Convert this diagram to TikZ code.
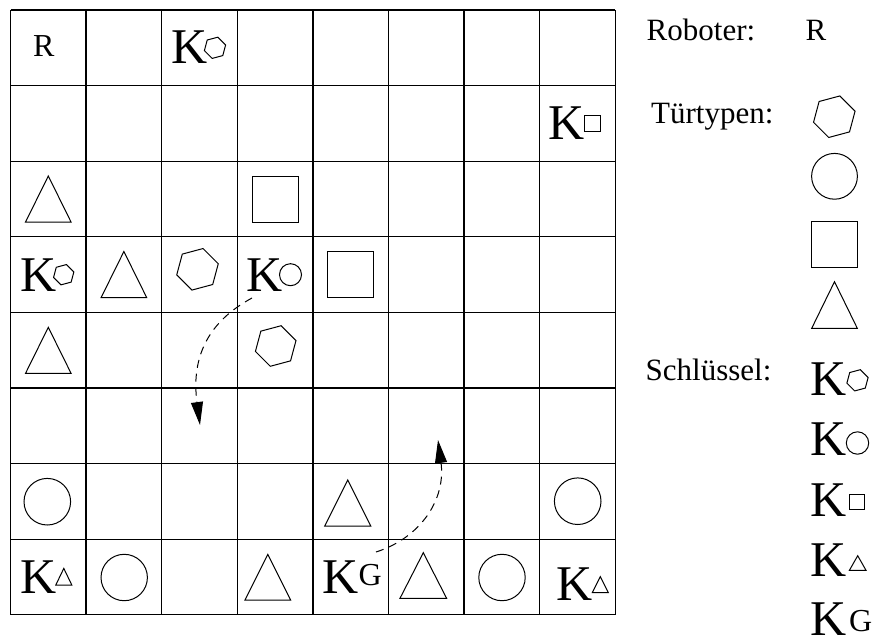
\documentclass[tikz,border=0pt]{standalone}
\usepackage{fontspec}
\setmainfont{Liberation Serif}
\usetikzlibrary{arrows.meta}
\newcommand{\trishape}[4]{\draw[shp] (#1-#3,#2+#4) -- (#1,#2-#4) -- (#1+#3,#2+#4) -- cycle;}
\newcommand{\sqshape}[3]{\draw[shp] (#1-#3,#2-#3) rectangle (#1+#3,#2+#3);}
\newcommand{\circshape}[3]{\draw[shp] (#1,#2) circle[radius=#3pt];}
\newcommand{\hexshape}[3]{\draw[shp,shift={(#1,#2)}] (45:#3) -- (105:#3) -- (165:#3) -- (225:#3) -- (285:#3) -- (345:#3) -- cycle;}
\begin{document}
\begin{tikzpicture}[x=1pt,y=-1pt,
  gridline/.style={line width=1.3pt},
  shp/.style={line width=1pt},
  lbl/.style={inner sep=0pt, anchor=base west, font=\fontsize{31}{31}\selectfont},
  celltxt/.style={inner sep=0pt, anchor=base west, font=\fontsize{32}{32}\selectfont},
  keyK/.style={inner sep=0pt, anchor=base west, font=\fontsize{50}{50}\selectfont},
  keyG/.style={inner sep=0pt, anchor=base west, font=\fontsize{32}{32}\selectfont},
  route/.style={line width=1pt, dash pattern=on 8pt off 6pt, -{Triangle[length=23pt,width=12pt]}}]
\useasboundingbox (0,0) rectangle (874,637);
\fill[white] (0,0) rectangle (874,637);
% grid
\foreach \i in {0,...,8} {
  \draw[gridline] (10.5+75.6*\i,10) -- (10.5+75.6*\i,614.8);
  \draw[gridline] (10.5,10+75.6*\i) -- (615.3,10+75.6*\i);
}
% row 0
\node[celltxt] (robot) at (33,56.7) {R};
\node[keyK] (k02) at (170.8,63.3) {K};
\hexshape{215}{47.8}{11}
% row 1
\node[keyK] (k17) at (548.6,139.3) {K};
\sqshape{592.7}{123.8}{8}
% row 2
\trishape{48.3}{199}{22.75}{23}
\sqshape{275.3}{199}{23}
% row 3
\node[keyK] (k30) at (20,291) {K};
\hexshape{63.7}{274.7}{10.5}
\trishape{123.9}{274.5}{22.75}{23}
\hexshape{197.5}{269.3}{21.5}
\node[keyK] (k33) at (246,291) {K};
\circshape{290.5}{274.7}{11}
\sqshape{350.8}{274.7}{23}
% row 4
\trishape{48.3}{350.3}{22.75}{23}
\hexshape{275.7}{346}{21}
% row 6
\circshape{47.3}{501.7}{23.3}
\trishape{347.7}{503}{23}{23}
\circshape{577.7}{501.2}{23.3}
% row 7
\node[keyK] (k70) at (20,593.3) {K};
\trishape{63.8}{576.7}{8}{8.3}
\circshape{124.2}{577.5}{23.2}
\trishape{267.8}{577.2}{22.8}{22.8}
\node[keyK] (k74) at (322,593.3) {K};
\node[keyG] (g74) at (358.3,585) {G};
\trishape{423.3}{575.5}{23.3}{22.8}
\circshape{502}{577.5}{23.2}
\node[keyK] (k77) at (556,600) {K};
\trishape{600.3}{584.7}{8}{8}
% arrows
\coordinate (a1s) at (252,298);
\coordinate (a1e) at (200,425);
\draw[route] (a1s) .. controls (215,318) and (190,350) .. (a1e);
\coordinate (a2s) at (376,552);
\coordinate (a2e) at (438,440);
\draw[route] (a2s) .. controls (420,538) and (446,500) .. (a2e);
% legend
\node[lbl] (roboter) at (646.5,40) {Roboter:};
\node[lbl] (rsym) at (805.5,40) {R};
\node[lbl] (tuer) at (651,123) {Türtypen:};
\hexshape{834.3}{116.7}{21.5}
\circshape{834.5}{176.3}{22.9}
\sqshape{834.5}{244.2}{22.8}
\trishape{834.5}{305}{22.8}{23.3}
\node[lbl] (schl) at (645.5,380) {Schlüssel:};
\node[keyK] (lk1) at (810.5,395.5) {K};
\hexshape{857.5}{380.3}{11}
\node[keyK] (lk2) at (810.5,455.8) {K};
\circshape{857.5}{443}{11.2}
\node[keyK] (lk3) at (810.5,516.1) {K};
\sqshape{857}{501.5}{7.5}
\node[keyK] (lk4) at (810.5,576.4) {K};
\trishape{857.7}{563}{8.3}{7.3}
\node[keyK] (lk5) at (810.5,635.6) {K};
\node[keyG] (lg5) at (849,631) {G};
\end{tikzpicture}
\end{document}
